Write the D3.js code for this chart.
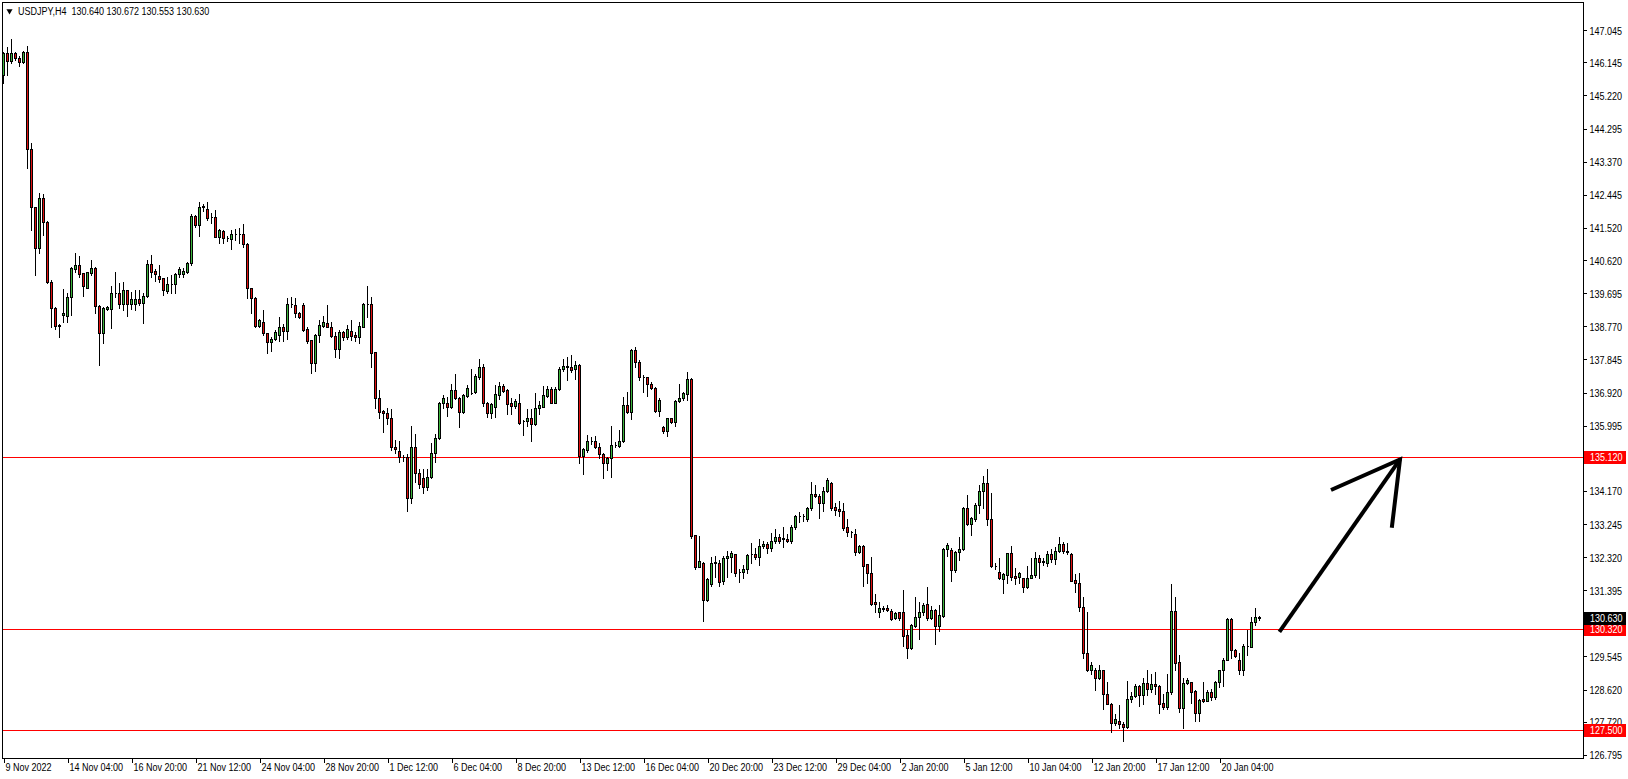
<!DOCTYPE html>
<html>
<head>
<meta charset="utf-8">
<script src="https://cdn.jsdelivr.net/npm/d3@7"></script>
<style>
  html, body { margin: 0; padding: 0; background: #fff; }
  svg { display: block; }
  text { font-family: "Liberation Sans", Arial, sans-serif; font-size: 11px; }
</style>
</head>
<body>
<svg id="chart" width="1628" height="779"></svg>
<script>
const symbol = "USDJPY,H4";
const lastQuote = ["130.640", "130.672", "130.553", "130.630"];

const opens = [145.79,146.41,146.19,146.41,146.26,146.14,146.42,143.71,142.11,140.95,142.35,141.67,140.02,139.27,138.78,139.08,139.07,139.58,140.38,140.48,
140.25,139.85,140.27,140.39,139.35,138.59,139.26,139.24,139.69,139.71,139.38,139.78,139.39,139.39,139.52,139.43,139.62,140.50,140.31,140.17,
140.11,139.76,139.94,139.94,140.24,140.24,140.28,140.53,141.85,141.59,142.11,142.04,141.83,141.83,141.27,141.44,141.25,141.20,141.34,141.34,
141.34,141.06,139.83,139.57,138.78,138.90,138.57,138.32,138.41,138.53,138.76,138.65,139.38,139.36,139.13,139.36,138.69,138.39,137.75,138.52,
138.79,138.85,138.76,138.50,138.13,138.61,138.46,138.64,138.53,138.46,138.76,139.38,139.38,138.04,136.78,136.40,136.34,136.20,135.41,135.28,
135.13,135.13,133.98,135.39,134.66,134.52,134.27,134.55,135.22,135.64,136.62,136.64,136.51,136.99,136.77,136.38,136.82,136.91,136.94,137.36,
137.62,136.62,136.34,136.52,136.85,137.10,136.99,136.62,136.55,136.64,136.13,136.13,136.20,136.04,136.48,136.52,136.82,137.02,136.64,137.02,
137.57,137.64,137.64,137.57,137.69,135.15,135.31,135.57,135.57,135.41,135.19,134.96,135.08,135.46,135.43,135.57,136.57,136.38,138.11,137.76,
137.36,137.34,137.17,137.04,136.41,135.95,135.85,136.20,136.10,136.68,136.76,136.87,137.30,132.94,132.05,132.17,131.12,131.56,132.17,132.17,
131.66,132.29,132.33,132.40,131.91,131.91,131.98,132.40,132.40,132.33,132.63,132.70,132.58,132.78,132.87,132.84,132.84,132.78,133.17,133.47,
133.48,133.38,133.68,134.08,134.03,133.82,134.17,134.40,133.71,133.66,133.61,133.15,133.03,132.98,132.45,132.63,132.12,131.89,131.06,130.80,
130.89,130.89,130.82,130.63,130.78,130.78,130.14,129.79,130.40,130.64,130.78,131.00,130.63,130.84,130.40,130.68,132.54,132.52,131.96,132.47,
132.54,133.68,133.24,133.38,133.79,134.17,134.40,133.38,132.08,131.91,131.71,131.82,132.43,131.80,131.77,131.73,131.49,131.75,131.82,132.29,
132.19,132.16,132.40,132.26,132.49,132.68,132.47,132.40,131.68,131.61,130.94,129.63,129.17,129.18,128.93,129.17,128.51,128.23,127.70,127.74,
127.67,127.58,128.35,128.44,128.72,128.47,128.79,128.63,128.77,128.72,128.25,128.12,128.54,130.81,129.38,128.11,128.79,128.82,128.58,127.97,
128.37,128.31,128.54,128.40,128.82,129.17,129.46,130.59,129.73,129.46,129.18,129.85,129.82,130.50,130.640];

const highs = [146.44,146.56,146.79,146.44,146.32,146.47,146.60,143.88,142.11,142.49,142.47,141.71,140.06,139.30,138.82,139.80,139.69,140.42,140.81,140.72,
140.25,140.30,140.62,140.42,139.36,139.32,139.34,139.90,140.28,139.97,140.02,139.78,139.72,139.78,139.78,139.69,140.62,140.75,140.36,140.48,
140.11,140.16,140.20,140.27,140.42,140.41,140.56,141.90,141.88,142.25,142.20,142.23,141.94,142.02,141.48,141.46,141.29,141.46,141.48,141.51,
141.62,141.09,139.85,139.60,138.97,139.22,138.59,138.48,138.67,139.04,138.83,139.57,139.58,139.57,139.18,139.41,138.76,138.39,138.55,138.95,
139.06,139.36,138.90,138.62,138.67,138.65,138.81,138.95,138.62,138.90,139.43,139.90,139.60,138.05,136.99,136.43,136.49,136.46,135.59,135.57,
135.17,135.20,135.98,135.75,134.77,134.77,134.77,135.50,135.75,136.66,136.85,136.80,137.17,137.44,136.80,136.88,137.13,137.57,137.45,137.85,
137.73,136.66,136.64,137.13,137.22,137.17,137.01,136.76,136.73,136.88,136.15,136.45,136.45,136.91,136.69,137.10,137.11,137.08,137.08,137.62,
137.85,137.90,137.97,137.81,137.73,135.36,135.73,135.69,135.70,135.52,135.24,135.13,135.98,135.55,135.87,136.80,136.94,138.13,138.18,137.83,
137.41,137.36,137.20,137.06,136.76,135.98,136.22,136.22,136.71,137.17,136.94,137.48,137.32,132.94,132.91,132.19,131.73,132.33,132.36,132.24,
132.35,132.50,132.50,132.40,131.98,132.10,132.40,132.72,132.57,132.82,132.78,132.75,133.00,133.12,132.98,133.17,132.98,133.21,133.50,133.59,
133.52,133.71,134.43,134.33,134.08,134.29,134.52,134.43,133.84,133.89,133.82,133.39,133.05,133.11,132.66,132.66,132.12,132.33,131.29,131.08,
130.95,130.98,130.86,130.78,130.80,131.40,130.28,130.45,131.22,131.08,131.05,131.48,130.96,130.86,130.98,132.57,132.71,132.57,132.50,132.89,
133.71,134.05,133.45,133.82,134.33,134.59,134.77,134.10,132.17,132.30,131.87,132.44,132.64,132.01,131.91,131.75,132.07,132.29,132.47,132.38,
132.29,132.49,132.54,132.61,132.87,132.75,132.72,132.43,131.85,131.88,131.22,130.78,129.40,129.21,129.31,129.18,128.82,128.25,127.94,128.19,
127.72,128.86,128.56,128.77,128.75,128.93,129.17,129.05,129.10,128.75,128.51,129.05,131.56,131.21,129.58,128.93,128.93,128.84,128.61,128.36,
128.82,128.61,128.65,128.86,129.18,129.49,130.61,130.61,129.74,129.63,129.88,130.28,130.66,130.89,130.672];

const lows = [145.58,145.79,146.12,146.21,146.05,146.12,143.18,141.46,140.19,140.83,141.32,139.97,138.74,138.69,138.46,138.90,138.90,139.08,140.30,140.16,
139.62,139.85,140.20,139.15,137.68,138.31,139.22,138.73,139.60,139.29,139.22,139.06,139.24,139.22,139.36,138.87,139.60,140.16,140.04,140.02,
139.64,139.69,139.69,139.69,140.16,140.16,140.27,140.48,141.53,141.30,142.00,141.74,141.65,141.26,141.09,141.09,141.16,140.92,141.18,141.09,
140.98,139.55,139.13,138.76,138.76,138.53,138.03,138.09,138.39,138.37,138.37,138.41,139.32,139.02,139.00,138.64,138.31,137.47,137.53,138.32,
138.76,138.74,138.48,137.92,137.87,138.39,138.41,138.39,138.36,138.31,138.74,139.04,137.64,136.48,136.20,135.83,136.04,135.31,135.22,134.99,
135.01,133.62,133.84,134.43,134.24,134.12,134.19,134.52,134.99,135.61,136.48,136.27,136.48,136.74,135.95,136.34,136.80,136.87,136.91,137.29,
136.54,136.24,136.22,136.24,136.73,136.94,136.31,136.31,136.48,136.04,135.74,135.98,135.57,136.01,136.32,136.51,136.80,136.64,136.62,136.99,
137.53,137.27,137.50,137.31,134.94,134.64,135.27,135.48,135.38,135.08,134.52,134.76,134.55,135.41,135.41,135.55,136.36,136.17,137.62,137.27,
136.94,136.82,137.01,136.38,136.26,135.78,135.71,136.08,135.98,136.66,136.71,136.71,132.85,131.98,132.05,130.54,131.10,131.52,131.77,131.52,
131.57,131.77,131.91,131.79,131.63,131.75,131.89,132.15,132.26,132.10,132.57,132.43,132.50,132.72,132.72,132.61,132.75,132.72,133.12,133.31,
133.34,133.34,133.65,133.99,133.40,133.62,134.15,133.65,133.50,133.47,133.08,132.91,132.87,132.38,132.43,131.52,131.59,130.98,130.78,130.66,
130.82,130.82,130.56,130.58,130.56,129.85,129.49,129.74,130.36,130.02,130.70,130.56,130.58,129.89,130.27,130.66,132.35,131.66,131.91,132.24,
132.52,133.22,132.94,133.33,133.56,133.68,133.22,132.05,131.98,131.71,131.31,131.60,131.68,131.57,131.59,131.35,131.45,131.73,131.77,131.73,
132.10,132.08,132.19,132.13,132.47,132.44,132.42,131.66,131.35,130.82,129.49,129.15,129.05,128.61,128.91,128.09,128.22,127.44,127.63,127.54,
127.19,127.56,128.28,128.42,128.16,128.22,128.47,128.56,128.51,127.97,128.09,128.07,128.51,129.18,128.00,127.56,128.77,128.25,127.75,127.75,
128.28,128.33,128.33,128.37,128.70,128.72,129.45,129.49,129.52,129.05,129.03,129.60,129.80,130.42,130.553];

const closes = [146.41,146.19,146.40,146.26,146.14,146.42,143.71,142.11,140.95,142.35,141.67,140.02,139.27,138.78,138.80,139.13,139.58,140.39,140.48,140.23,
139.90,140.28,140.39,139.35,138.59,139.27,139.30,139.71,139.71,139.38,139.78,139.39,139.52,139.52,139.43,139.63,140.50,140.30,140.22,140.08,
139.78,139.94,139.95,140.24,140.36,140.31,140.53,141.85,141.59,142.11,142.14,141.80,141.81,141.27,141.46,141.23,141.24,141.34,141.35,141.34,
141.06,139.83,139.57,138.78,138.95,138.57,138.32,138.41,138.62,138.76,138.65,139.38,139.39,139.13,139.04,138.67,138.37,137.75,138.52,138.80,
138.90,138.76,138.50,138.13,138.61,138.46,138.69,138.50,138.46,138.78,139.39,139.39,138.03,136.78,136.38,136.34,136.20,135.41,135.33,135.13,
135.12,133.98,135.39,134.66,134.35,134.27,134.55,135.22,135.64,136.62,136.76,136.51,136.99,136.76,136.38,136.85,137.04,136.92,137.38,137.62,
136.62,136.34,136.60,136.88,137.10,136.97,136.60,136.54,136.68,136.07,136.12,136.20,136.04,136.50,136.57,136.85,137.02,136.64,137.02,137.57,
137.66,137.65,137.55,137.69,135.15,135.33,135.57,135.57,135.41,135.19,134.96,135.10,135.45,135.46,135.57,136.57,136.38,138.11,137.78,137.34,
137.35,137.17,137.04,136.41,136.71,135.85,136.20,136.10,136.68,136.77,136.90,137.30,132.92,132.05,132.21,131.12,131.70,132.17,132.18,131.63,
132.30,132.35,132.44,131.89,131.90,131.98,132.38,132.40,132.33,132.64,132.70,132.58,132.78,132.87,132.78,132.85,132.78,133.17,133.47,133.48,
133.47,133.68,134.08,134.03,133.82,134.17,134.48,133.70,133.65,133.61,133.14,133.03,133.02,132.45,132.63,132.08,131.89,131.00,131.00,130.89,
130.88,130.84,130.59,130.75,130.61,130.12,129.79,130.42,130.64,130.78,130.98,130.63,130.84,130.40,130.70,132.54,132.66,131.96,132.47,132.54,
133.68,133.24,133.42,133.79,134.17,134.40,133.38,132.08,132.07,131.73,131.85,132.43,131.77,131.75,131.87,131.49,131.75,131.82,132.29,132.19,
132.20,132.40,132.26,132.49,132.68,132.49,132.48,131.66,131.61,130.94,129.63,129.17,129.32,128.93,129.17,128.51,128.23,127.70,127.81,127.67,
127.58,128.35,128.44,128.72,128.47,128.79,128.63,128.77,128.72,128.23,128.14,128.54,130.81,129.37,128.11,128.79,128.90,128.56,127.97,128.33,
128.31,128.54,128.40,128.82,129.17,129.46,130.59,129.73,129.56,129.18,129.85,129.84,130.50,130.66,130.630];

const levels = [135.12, 130.32, 127.50];
const levelLabels = ["135.120", "130.320", "127.500"];
const priceTicks = [147.045,146.145,145.220,144.295,143.370,142.445,141.520,140.620,139.695,138.770,137.845,136.920,135.995,134.170,133.245,132.320,131.395,129.545,128.620,127.720,126.795];
const timeLabels = ["9 Nov 2022","14 Nov 04:00","16 Nov 20:00","21 Nov 12:00","24 Nov 04:00","28 Nov 20:00","1 Dec 12:00","6 Dec 04:00","8 Dec 20:00","13 Dec 12:00","16 Dec 04:00","20 Dec 20:00","23 Dec 12:00","29 Dec 04:00","2 Jan 20:00","5 Jan 12:00","10 Jan 04:00","12 Jan 20:00","17 Jan 12:00","20 Jan 04:00"];
const timeLabelBars = [0,16,32,48,64,80,96,112,128,144,160,176,192,208,224,240,256,272,288,304];
const arrowShaft = [[319.1, 130.235], [349.25, 135.05]];
const arrowHead = [[332.0, 134.195], [349.25, 135.05], [347.2, 133.14]];

const plot = {left: 2, top: 2, right: 1583, bottom: 758};
const SX = 0.82; // horizontal squeeze to mimic the narrow terminal font
const svg = d3.select("#chart");

const x = d3.scaleLinear().domain([0, 314]).range([3, 1259]);
const y = d3.scaleLinear().domain([147.045, 126.795]).range([30.1, 754.9]);

const bars = opens.map((o, i) => ({i, o, h: highs[i], l: lows[i], c: closes[i]}));
const bull = "#3cb43c", bear = "#e01010";

function label(parent, px, py, txt, fill) {
  return parent.append("text")
    .attr("transform", `translate(${px},${py}) scale(${SX},1)`)
    .attr("text-anchor", "start")
    .attr("fill", fill || "#000")
    .attr("xml:space", "preserve")
    .style("white-space", "pre")
    .style("font-family", "\"Liberation Sans\", Arial, sans-serif")
    .style("font-size", "11px")
    .text(txt);
}

svg.append("clipPath").attr("id", "plotclip").append("rect")
  .attr("x", plot.left).attr("y", plot.top).attr("width", plot.right - plot.left).attr("height", plot.bottom - plot.top);

const g = svg.append("g").attr("clip-path", "url(#plotclip)").attr("shape-rendering", "crispEdges");

g.selectAll("line.level").data(levels).join("line")
  .attr("class", "level")
  .attr("x1", plot.left).attr("x2", plot.right)
  .attr("y1", d => Math.round(y(d)) + 0.5).attr("y2", d => Math.round(y(d)) + 0.5)
  .attr("stroke", "#ff0000").attr("stroke-width", 1);

g.selectAll("line.wick").data(bars).join("line")
  .attr("class", "wick")
  .attr("x1", d => Math.round(x(d.i)) + 0.5).attr("x2", d => Math.round(x(d.i)) + 0.5)
  .attr("y1", d => Math.round(y(d.h))).attr("y2", d => Math.round(y(d.l)) + 1)
  .attr("stroke", "#000").attr("stroke-width", 1);

g.selectAll("path.body").data(bars).join("path")
  .attr("class", "body")
  .attr("d", d => {
    const cx = Math.round(x(d.i));
    const y0 = Math.round(y(Math.max(d.o, d.c))) + 0.5;
    const y1 = Math.round(y(Math.min(d.o, d.c))) + 0.5;
    const x0 = cx - 0.5, x1 = cx + 1.5;
    return `M${x0},${y0}H${x1}V${y1}H${x0}Z`;
  })
  .attr("fill", d => d.c >= d.o ? bull : bear)
  .attr("stroke", "#000").attr("stroke-width", 1);

const lineGen = d3.line().x(d => x(d[0])).y(d => y(d[1]));
svg.append("path").attr("d", lineGen(arrowShaft))
  .attr("fill", "none").attr("stroke", "#000").attr("stroke-width", 4);
svg.append("path").attr("d", lineGen(arrowHead))
  .attr("fill", "none").attr("stroke", "#000").attr("stroke-width", 4).attr("stroke-linejoin", "miter");

svg.append("rect")
  .attr("x", plot.left + 0.5).attr("y", plot.top + 0.5)
  .attr("width", plot.right - plot.left).attr("height", plot.bottom - plot.top)
  .attr("fill", "none").attr("stroke", "#000").attr("stroke-width", 1)
  .attr("shape-rendering", "crispEdges");

// right price axis (ticks via d3 axis, labels squeezed)
const yAxis = d3.axisRight(y).tickValues(priceTicks).tickSize(3).tickFormat("");
const ya = svg.append("g").attr("transform", `translate(${plot.right + 0.5},0)`).call(yAxis);
ya.select(".domain").remove();
ya.selectAll("line").attr("stroke", "#000").attr("shape-rendering", "crispEdges");
ya.selectAll(".tick").each(function(d) {
  label(d3.select(this), 6, 4, d3.format(".3f")(d));
});

// level labels
const lv = svg.append("g");
levels.forEach((p, k) => {
  const yy = Math.round(y(p));
  lv.append("rect").attr("x", plot.right + 1).attr("y", yy - 6).attr("width", 42).attr("height", 13).attr("fill", "#ff0000");
  label(lv, plot.right + 7, yy + 4, levelLabels[k], "#fff");
});
{
  const p = +lastQuote[3];
  const yy = Math.round(y(p));
  lv.append("rect").attr("x", plot.right + 1).attr("y", yy - 6).attr("width", 42).attr("height", 13).attr("fill", "#000");
  label(lv, plot.right + 7, yy + 4, lastQuote[3], "#fff");
}

// bottom time axis
const xAxis = d3.axisBottom(x).tickValues(timeLabelBars).tickSize(4).tickFormat("");
const xa = svg.append("g").attr("transform", `translate(0.5,${plot.bottom + 0.5})`).call(xAxis);
xa.select(".domain").remove();
xa.selectAll("line").attr("stroke", "#000").attr("shape-rendering", "crispEdges");
xa.selectAll(".tick").each(function(d, k) {
  label(d3.select(this), 1.5, 12.5, timeLabels[k]);
});

// header
svg.append("path").attr("d", d3.symbol().type(d3.symbolTriangle).size(16)())
  .attr("transform", "translate(9.5,11) rotate(180)").attr("fill", "#000");
label(svg, 18, 14.5, `${symbol}  ${lastQuote.join(" ")}`);
</script>
</body>
</html>
